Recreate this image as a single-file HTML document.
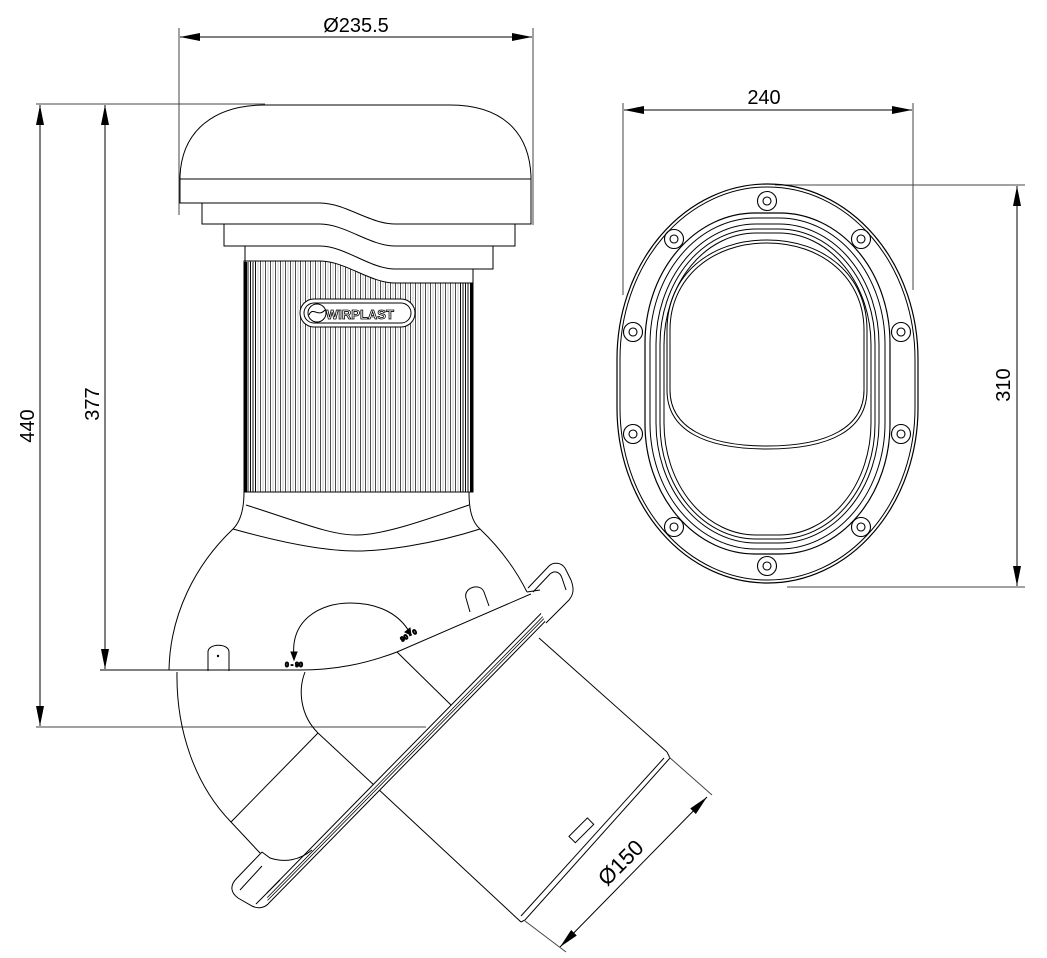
<!DOCTYPE html>
<html><head><meta charset="utf-8"><style>
html,body{margin:0;padding:0;background:#fff;}
svg{display:block;}
text{font-family:"Liberation Sans",sans-serif;fill:#000;}
</style></head><body>
<svg width="1047" height="958" viewBox="0 0 1047 958" xmlns="http://www.w3.org/2000/svg">
<defs>
<pattern id="rib" width="5" height="10" patternUnits="userSpaceOnUse">
<line x1="0.5" y1="0" x2="0.5" y2="10" stroke="#000" stroke-width="0.7"/>
<line x1="3" y1="0" x2="3" y2="10" stroke="#777" stroke-width="0.4"/>
</pattern>
<pattern id="ribd" width="2.5" height="10" patternUnits="userSpaceOnUse">
<line x1="0.5" y1="0" x2="0.5" y2="10" stroke="#000" stroke-width="0.9"/>
</pattern>
<marker id="ar" viewBox="0 0 20 8" refX="20" refY="4" markerWidth="20" markerHeight="8" markerUnits="userSpaceOnUse" orient="auto-start-reverse"><path d="M0,0 L20,4 L0,8 Z" fill="#000"/></marker>
</defs>

<g fill="none" stroke="#000" stroke-width="1">
<line x1="179" y1="28" x2="179" y2="215" stroke="#444"/>
<line x1="533" y1="28" x2="533" y2="225" stroke="#444"/>
<line x1="180" y1="37" x2="532" y2="37" marker-start="url(#ar)" marker-end="url(#ar)"/>
<line x1="36" y1="104" x2="265" y2="104" stroke="#444"/>
<line x1="40" y1="105" x2="40" y2="726" marker-start="url(#ar)" marker-end="url(#ar)"/>
<line x1="105" y1="105" x2="105" y2="669" marker-start="url(#ar)" marker-end="url(#ar)"/>
<line x1="36" y1="727" x2="426" y2="727" stroke="#444"/>
<line x1="100" y1="670" x2="178" y2="670"/>

<path d="M180,176 C182,130 215,105 265,105 H450 C500,105 529,130 531,176"/>
<line x1="180" y1="179" x2="531" y2="179"/>
<path d="M180,176 V203 H320 C345,203 370,224 395,224 H531 V176"/>
<path d="M202,203 V224 H320 C345,224 370,246 395,246 H515 V224"/>
<path d="M224,224 V246 H320 C345,246 370,269 395,269 H493 V246"/>
<path d="M245,246 V261 M473,269 V283"/>
<path d="M244,261 H320 C345,261 370,283 395,283 H473 V492 H244 Z" fill="url(#rib)"/>
<rect x="244" y="262" width="12" height="230" fill="url(#ribd)" stroke="none"/>
<rect x="460" y="283" width="13" height="209" fill="url(#ribd)" stroke="none"/>
<rect x="470" y="283" width="3" height="209" fill="#000" stroke="none"/>
<rect x="244" y="262" width="3" height="230" fill="#000" stroke="none"/>
<rect x="300" y="299" width="115" height="28" rx="14" fill="#fff" stroke="#000"/>
<rect x="304" y="303" width="107" height="20" rx="10" fill="none" stroke="#000"/>
<circle cx="317" cy="313" r="9" fill="#fff"/>
<path d="M309,315 C313,306 318,318 325,310"/>
<text x="326" y="319" font-size="13" font-weight="bold" stroke="#000" stroke-width="0.8" style="fill:#fff">WIRPLAST</text>

<path d="M244,492 C244,510 240,522 233,529 C195,565 170,615 169,670"/>
<path d="M469,492 C469,510 472,522 480,529 C500,548 516,570 527,592"/>
<path d="M246,505 C300,522 330,535 356,535 C382,535 420,522 469,505"/>
<path d="M233,529 C290,545 330,551 356,551 C382,551 430,545 480,529"/>
<line x1="169" y1="670" x2="300" y2="670"/>
<path d="M300,670 C335,670 365,664 397,652 L540,590"/>
<path d="M208,671 V652 C208,643 229,643 229,652 V671"/>
<path d="M470,612 L466,598 C463,588 480,582 484,592 L489,606"/>
<circle cx="218" cy="656" r="0.7" fill="#000"/>
<path d="M294,657 C290,620 320,603 350,603 C380,603 400,615 410,633" />
<path d="M291,652 L294,660 L297,652 Z M405,632 L411,635 L410,628 Z" fill="#000"/>
<text x="285" y="667" font-size="7" font-weight="bold">0 - 90</text>
<text x="402" y="642" font-size="7" font-weight="bold" transform="rotate(-30 402 642)">90 - 0</text>

<path d="M177,672 C176,730 195,785 231,822 L260,853"/>
<path d="M305,672 C298,690 300,715 318,733"/>
<line x1="318" y1="733" x2="231" y2="822"/>
<line x1="318" y1="733" x2="521" y2="922"/>
<line x1="397" y1="652" x2="453" y2="707"/>
<line x1="539" y1="638" x2="667" y2="752"/>
<path d="M667,752 L670,758 L525,920 L521,922"/>
<line x1="664" y1="758" x2="521" y2="916"/>
<rect x="568" y="826" width="26" height="9" transform="rotate(-45 581 830)"/>

<!-- flange (thin strip + end caps) -->
<path d="M565,589 L571,595 L267,905 L261,899 Z" fill="#fff" stroke="none"/>
<line x1="571" y1="595" x2="267" y2="905"/>
<line x1="569" y1="593" x2="265" y2="903" stroke-width="0.8"/>
<line x1="567.4" y1="591.5" x2="263.4" y2="901.5" stroke-width="0.8"/>
<line x1="565" y1="589" x2="261" y2="899"/>
<path d="M528,588 L549,566 C553,562 561,562 565,568 L571,580 C574,588 574,594 569,600 L546,623" fill="#fff"/>
<path d="M533,592 L550,574 C555,570 560,572 562,578 L566,590"/>
<path d="M262,852 L237,878 C230,885 230,892 238,898 L252,906 C258,909 264,908 268,904" fill="#fff"/>
<path d="M262,852 L270,858 C285,863 300,860 312,850"/>
<path d="M240,890 L262,866 M256,904 L280,880"/>
<line x1="527" y1="592" x2="540" y2="590"/>

<line x1="669" y1="757" x2="712" y2="795" stroke="#444"/>
<line x1="525" y1="921" x2="566" y2="952" stroke="#444"/>
<line x1="560" y1="947" x2="707" y2="797" marker-start="url(#ar)" marker-end="url(#ar)"/>

<line x1="623" y1="103" x2="623" y2="295" stroke="#444"/>
<line x1="913" y1="103" x2="913" y2="290" stroke="#444"/>
<line x1="624" y1="110" x2="912" y2="110" marker-start="url(#ar)" marker-end="url(#ar)"/>
<line x1="775" y1="185" x2="1025" y2="185" stroke="#444"/>
<line x1="787" y1="587" x2="1025" y2="587" stroke="#444"/>
<line x1="1017" y1="186" x2="1017" y2="586" marker-start="url(#ar)" marker-end="url(#ar)"/>

<rect x="617" y="184" width="301" height="399" rx="150" ry="175" stroke-width="1.2"/>
<rect x="620" y="187" width="295" height="393" rx="147" ry="172"/>
<rect x="645" y="213" width="245" height="341" rx="110" ry="130" stroke-width="1.2"/>
<rect x="650" y="218" width="235" height="331" rx="106" ry="126"/>
<rect x="656" y="224" width="223" height="319" rx="100" ry="120"/>
<rect x="660" y="229" width="215" height="310" rx="96" ry="115"/>
<rect x="664" y="233" width="207" height="302" rx="92" ry="112"/>
<path d="M667,330 C667,275 710,240 767,240 C824,240 867,275 867,330 V390 C867,430 830,449 767,449 C704,449 667,430 667,390 Z"/>
<path d="M670,330 C670,278 712,243 767,243 C822,243 864,278 864,330 V390 C864,427 828,446 767,446 C706,446 670,427 670,390 Z"/>
<g stroke-width="1.1">
<circle cx="767" cy="201" r="9.5"/><circle cx="767" cy="201" r="4"/>
<circle cx="674" cy="239" r="9.5"/><circle cx="674" cy="239" r="4"/>
<circle cx="861" cy="239" r="9.5"/><circle cx="861" cy="239" r="4"/>
<circle cx="633" cy="332" r="9.5"/><circle cx="633" cy="332" r="4"/>
<circle cx="901" cy="332" r="9.5"/><circle cx="901" cy="332" r="4"/>
<circle cx="633" cy="434" r="9.5"/><circle cx="633" cy="434" r="4"/>
<circle cx="901" cy="434" r="9.5"/><circle cx="901" cy="434" r="4"/>
<circle cx="674" cy="527" r="9.5"/><circle cx="674" cy="527" r="4"/>
<circle cx="861" cy="527" r="9.5"/><circle cx="861" cy="527" r="4"/>
<circle cx="767" cy="566" r="9.5"/><circle cx="767" cy="566" r="4"/>
</g>
</g>

<text x="356" y="32" font-size="20" text-anchor="middle">Ø235.5</text>
<text x="764" y="104" font-size="20" text-anchor="middle">240</text>
<text transform="translate(40,426) rotate(-90)" font-size="20" text-anchor="middle" y="-6">440</text>
<text transform="translate(105,404) rotate(-90)" font-size="20" text-anchor="middle" y="-6">377</text>
<text transform="translate(1017,385) rotate(-90)" font-size="20" text-anchor="middle" y="-7">310</text>
<text transform="translate(626,868) rotate(-45)" font-size="22" text-anchor="middle">Ø150</text>
</svg>
</body></html>
